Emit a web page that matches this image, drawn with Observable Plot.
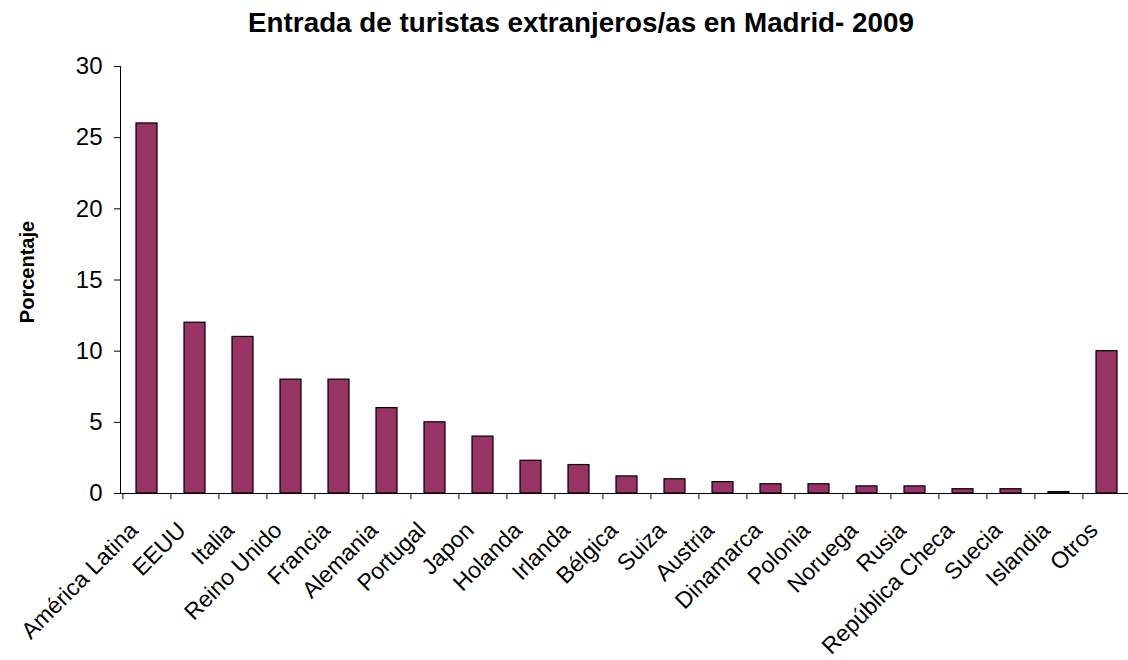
<!DOCTYPE html>
<html>
<head>
<meta charset="utf-8">
<script src="https://cdn.jsdelivr.net/npm/d3@7"></script>
<script src="https://cdn.jsdelivr.net/npm/@observablehq/plot@0.6"></script>
<style>
  html, body { margin: 0; padding: 0; background: #fff; }
  #title { width: 1128px; height: 45px; box-sizing: border-box; padding-left: 34px; text-align: center;
           font-family: "Liberation Sans", Arial, sans-serif; font-weight: bold; font-size: 27.8px; line-height: 45px; color: #000; }
  #chart svg { display: block; }
</style>
</head>
<body>
<div id="title">Entrada de turistas extranjeros/as en Madrid- 2009</div>
<div id="chart"></div>
<script>
const categories = ["América Latina","EEUU","Italia","Reino Unido","Francia","Alemania","Portugal","Japon","Holanda","Irlanda","Bélgica","Suiza","Austria","Dinamarca","Polonia","Noruega","Rusia","República Checa","Suecia","Islandia","Otros"];
const values = [26, 12, 11, 8, 8, 6, 5, 4, 2.3, 2, 1.2, 1, 0.8, 0.65, 0.65, 0.5, 0.5, 0.3, 0.3, 0.1, 10];
const yTicks = [0, 5, 10, 15, 20, 25, 30];
const yLabel = "Porcentaje";

const data = categories.map((c, i) => ({category: c, value: values[i]}));

const W = 1128, H = 615;
const mL = 120, mR = -5, mT = 21, mB = 167;
const pIn = 0.56, pOut = 0.28;
const step = (W - mL - mR) / (categories.length - pIn + 2 * pOut);

const chart = Plot.plot({
  width: W,
  height: H,
  marginLeft: mL,
  marginRight: mR,
  marginTop: mT,
  marginBottom: mB,
  style: {fontFamily: "'Liberation Sans', Arial, sans-serif", fontSize: "24px", color: "#000", background: "#fff"},
  x: {domain: categories, paddingInner: pIn, paddingOuter: pOut, label: null},
  y: {domain: [0, 30], label: null},
  marks: [
    Plot.barY(data, {x: "category", y: "value", fill: "#993366", stroke: "#000", strokeWidth: 1.2}),
    Plot.frame({anchor: "left", stroke: "#000"}),
    Plot.ruleY([0], {stroke: "#000"}),
    Plot.axisY({ticks: yTicks, tickSize: 6, tickPadding: 12, fontSize: 24, label: null, stroke: "#000"}),
    Plot.axisX({tickSize: 6, tickFormat: () => "", dx: -step / 2, label: null, stroke: "#000"}),
    Plot.axisX({tickSize: 0, tickRotate: -45, tickPadding: 33, dx: -13, fontSize: 23, label: null}),
    Plot.text([yLabel], {frameAnchor: "left", textAnchor: "middle", rotate: -90, dx: -93, dy: -8, fontWeight: "bold", fontSize: 20})
  ]
});
document.getElementById("chart").appendChild(chart);
</script>
</body>
</html>
